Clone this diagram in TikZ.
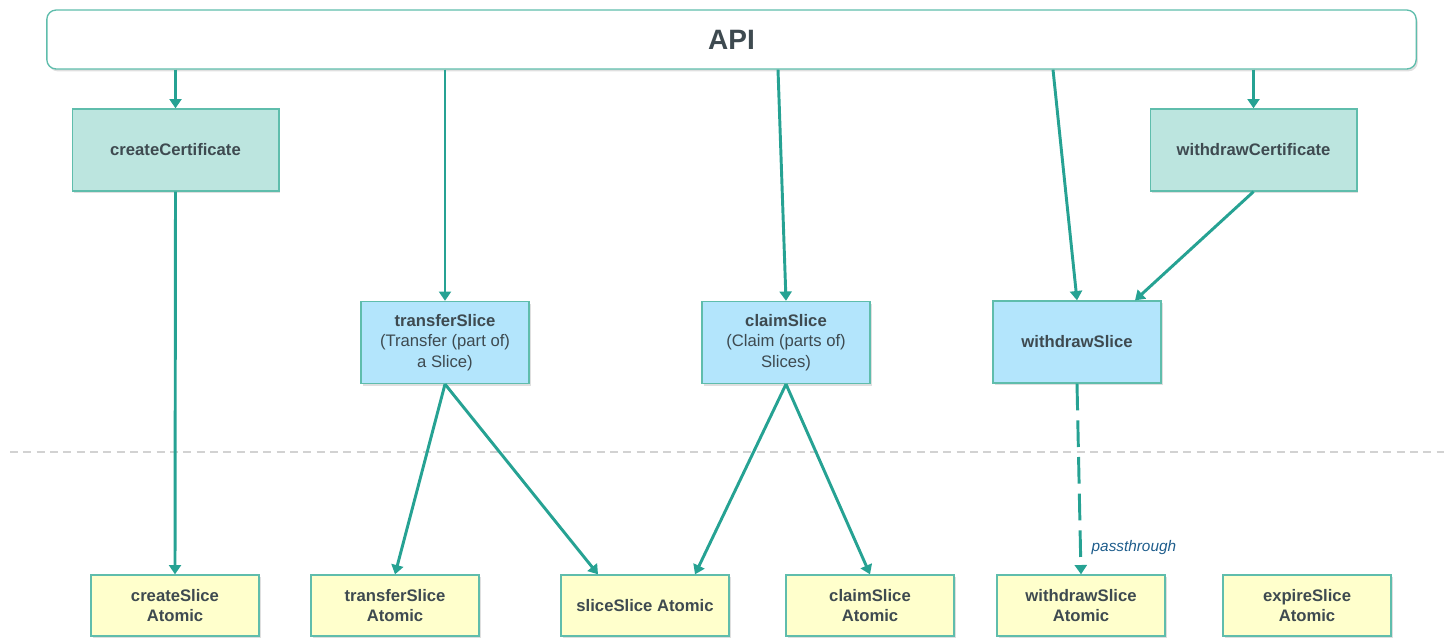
\documentclass[tikz,border=0pt]{standalone}
\usepackage{fontspec}
\setmainfont{Liberation Sans}
\usetikzlibrary{positioning,arrows.meta,shadows,calc}

\definecolor{flow}{HTML}{26A293}
\definecolor{rim}{HTML}{5FBDAC}
\definecolor{certfill}{HTML}{BCE5DF}
\definecolor{slicefill}{HTML}{B3E5FC}
\definecolor{atomfill}{HTML}{FFFFCC}
\definecolor{ink}{HTML}{3E4A50}
\definecolor{note}{HTML}{1E5D8C}

\begin{document}
\begin{tikzpicture} [x=0.75pt, y=-0.75pt, thick,
    box/.style={draw=rim, line width=1pt, text=ink, align=center, inner sep=2pt,
                font=\fontsize{12.5}{15.4}\selectfont,
                drop shadow={opacity=0.25, shadow xshift=1.2pt, shadow yshift=-1.8pt}},
    certbox/.style={box, fill=certfill, minimum width=155pt, minimum height=61.5pt},
    slicebox/.style={box, fill=slicefill, minimum width=126pt, minimum height=61.5pt},
    atombox/.style={box, fill=atomfill, minimum width=126pt, minimum height=45.75pt},
    flowline/.style={draw=flow, line width=2.2pt, -{Triangle[width=9pt,length=7pt]}}]

\useasboundingbox (0,0) rectangle (1444,637);

% API bar on top
\node[box, fill=white, rounded corners=7pt, minimum width=1027pt, minimum height=44.25pt,
      font=\fontsize{21}{25}\selectfont\bfseries] (api) at (731.5,39.5) {API};

% certificate calls
\node[certbox] (cc) at (175.5,150) {\textbf{createCertificate}};
\node[certbox] (wc) at (1253.5,150) {\textbf{withdrawCertificate}};

% slice calls
\node[slicebox] (ts) at (445,342.5) {\textbf{transferSlice}\\(Transfer (part of)\\a Slice)};
\node[slicebox] (cs) at (786,342.5) {\textbf{claimSlice}\\(Claim (parts of)\\Slices)};
\node[slicebox] (ws) at (1077,342) {\textbf{withdrawSlice}};

% separator
\draw[gray!35, line width=0.8pt, dash pattern=on 6pt off 4pt] (10,452) -- (1444,452);

% atomic layer
\node[atombox] (csa) at (175,605.5) {\textbf{createSlice}\\\textbf{Atomic}};
\node[atombox] (tsa) at (395,605.5) {\textbf{transferSlice}\\\textbf{Atomic}};
\node[atombox] (ssa) at (645,605.5) {\textbf{sliceSlice Atomic}};
\node[atombox] (cla) at (870,605.5) {\textbf{claimSlice}\\\textbf{Atomic}};
\node[atombox] (wsa) at (1081,605.5) {\textbf{withdrawSlice}\\\textbf{Atomic}};
\node[atombox] (esa) at (1307,605.5) {\textbf{expireSlice}\\\textbf{Atomic}};

% from the API
\path[flowline] (api.south -| cc.north) -- (cc.north);
\path[flowline] (api.south -| ts.north) -- (ts.north);
\path[flowline] ($(api.south -| cs.north)+(-8,0)$) -- (cs.north);
\path[flowline] ($(api.south -| ws.north)+(-24,0)$) -- (ws.north);
\path[flowline] (api.south -| wc.north) -- (wc.north);

% down to the slices
\path[flowline] (cc.south) -- (csa.north);
\path[flowline] (wc.south) -- ($(ws.north)+(58,0)$);
\path[flowline] (ts.south) -- (tsa.north);
\path[flowline] (ts.south) -- ($(ssa.north)+(-47,0)$);
\path[flowline] (cs.south) -- ($(ssa.north)+(50,0)$);
\path[flowline] (cs.south) -- (cla.north);
\path[flowline, dash pattern=on 20pt off 7.5pt] (ws.south) -- (wsa.north)
    node[pos=0.86, right=4pt, text=note, font=\fontsize{11.5}{13}\selectfont\itshape] {passthrough};
\end{tikzpicture}
\end{document}
